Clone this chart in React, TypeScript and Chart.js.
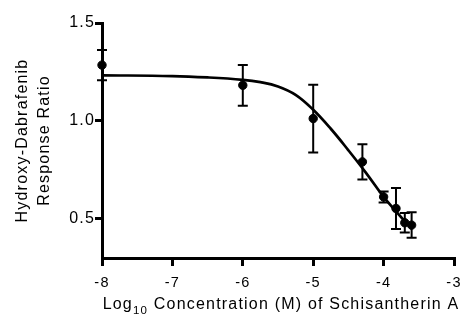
import React, { useEffect, useRef } from "react";
import { Chart, registerables } from "chart.js";

Chart.register(...registerables);

// Measured data points (log10 molar concentration, mean response ratio, error)
const logConc = [-8, -6, -5, -4.301, -4, -3.824, -3.699, -3.602];
const responseMean = [1.285, 1.182, 1.012, 0.791, 0.612, 0.553, 0.48, 0.468];
const responseErr = [0.077, 0.104, 0.173, 0.09, 0.028, 0.105, 0.05, 0.065];

// Fitted curve
const curveX = [-8, -7, -6.5, -6, -5.75, -5.5, -5.25, -5.0, -4.75, -4.5, -4.25, -4.0, -3.82, -3.7, -3.6];
const curveY = [1.233, 1.229, 1.222, 1.21, 1.198, 1.176, 1.133, 1.057, 0.96, 0.85, 0.735, 0.612, 0.537, 0.488, 0.449];

const yTicks = [0.5, 1.0, 1.5];
const xTitleMain = "Log";
const xTitleSub = "10";
const xTitleRest = " Concentration (M) of Schisantherin A";
const yTitle = ["Hydroxy-Dabrafenib", "Response Ratio"];

const FONT = "'Liberation Sans', Arial, Helvetica, sans-serif";
const SPACING = "1.2px";

const spacingPlugin = {
  id: "spacing",
  beforeDraw(chart: any) {
    chart.ctx.letterSpacing = SPACING;
  },
  afterDraw(chart: any) {
    chart.ctx.letterSpacing = "0px";
  },
};

const errorBarPlugin = {
  id: "errorBars",
  afterDatasetsDraw(chart: any) {
    const ctx = chart.ctx;
    const xs = chart.scales.x;
    const ys = chart.scales.y;
    ctx.save();
    ctx.strokeStyle = "#000";
    ctx.lineWidth = 2;
    const cap = 5;
    for (let i = 0; i < logConc.length; i++) {
      const px = xs.getPixelForValue(logConc[i]);
      const top = ys.getPixelForValue(responseMean[i] + responseErr[i]);
      const bot = ys.getPixelForValue(responseMean[i] - responseErr[i]);
      ctx.beginPath();
      ctx.moveTo(px, top);
      ctx.lineTo(px, bot);
      ctx.moveTo(px - cap, top);
      ctx.lineTo(px + cap, top);
      ctx.moveTo(px - cap, bot);
      ctx.lineTo(px + cap, bot);
      ctx.stroke();
    }
    ctx.restore();
  },
};

const xTitlePlugin = {
  id: "xTitle",
  afterDraw(chart: any) {
    const ctx = chart.ctx;
    const area = chart.chartArea;
    ctx.save();
    ctx.letterSpacing = SPACING;
    ctx.fillStyle = "#000";
    ctx.textBaseline = "alphabetic";
    ctx.textAlign = "left";
    const mainFont = `16px ${FONT}`;
    const subFont = `11.5px ${FONT}`;
    ctx.font = mainFont;
    const w1 = ctx.measureText(xTitleMain).width;
    const w3 = ctx.measureText(xTitleRest).width;
    ctx.font = subFont;
    const w2 = ctx.measureText(xTitleSub).width;
    const total = w1 + w2 + w3;
    const cx = (area.left + area.right) / 2 + 3;
    const baseline = chart.height - 5.7;
    let x = cx - total / 2;
    ctx.font = mainFont;
    ctx.fillText(xTitleMain, x, baseline);
    x += w1;
    ctx.font = subFont;
    ctx.fillText(xTitleSub, x, baseline + 4.2);
    x += w2;
    ctx.font = mainFont;
    ctx.fillText(xTitleRest, x, baseline);
    ctx.restore();
  },
};

export default function App() {
  const ref = useRef<HTMLCanvasElement | null>(null);

  useEffect(() => {
    const canvas = ref.current;
    if (!canvas) return;
    Chart.defaults.font.family = FONT;
    const chart = new Chart(canvas, {
      type: "scatter",
      data: {
        datasets: [
          {
            type: "line",
            data: curveX.map((x, i) => ({ x, y: curveY[i] })),
            borderColor: "#000",
            borderWidth: 2.7,
            pointRadius: 0,
            tension: 0.4,
            fill: false,
            clip: false,
          } as any,
          {
            type: "scatter",
            data: logConc.map((x, i) => ({ x, y: responseMean[i] })),
            backgroundColor: "#000",
            borderColor: "#000",
            pointRadius: 4.2,
            showLine: false,
            clip: false,
          } as any,
        ],
      },
      options: {
        animation: false,
        responsive: false,
        devicePixelRatio: 1,
        layout: { padding: { top: 23, right: 9, left: 0, bottom: 0 } },
        plugins: { legend: { display: false }, tooltip: { enabled: false } },
        scales: {
          x: {
            type: "linear",
            min: -8,
            max: -3,
            ticks: {
              stepSize: 1,
              color: "#000",
              font: { size: 14.5, family: FONT },
              padding: 8,
              maxRotation: 0,
            },
            grid: {
              display: true,
              drawOnChartArea: false,
              drawTicks: true,
              tickLength: 8,
              color: "#000",
              lineWidth: 3,
            },
            border: { display: true, color: "#000", width: 3 },
            afterFit: (s: any) => {
              s.height = 57;
              s.paddingLeft = 0;
              s.paddingRight = 0;
            },
          },
          y: {
            type: "linear",
            min: 0.3,
            max: 1.5,
            afterBuildTicks: (s: any) => {
              s.ticks = yTicks.map((v) => ({ value: v }));
            },
            ticks: {
              color: "#000",
              font: { size: 16, family: FONT },
              padding: 0,
              callback: (v: any) => Number(v).toFixed(1),
            },
            grid: {
              display: true,
              drawOnChartArea: false,
              drawTicks: true,
              tickLength: 7,
              color: "#000",
              lineWidth: 3,
            },
            border: { display: true, color: "#000", width: 3 },
            title: {
              display: true,
              text: yTitle,
              color: "#000",
              font: { size: 16, family: FONT, lineHeight: 1.35 },
              padding: { top: 12, bottom: 0 },
            },
            afterFit: (s: any) => {
              s.width = 102;
              s.paddingTop = 0;
              s.paddingBottom = 0;
            },
          },
        },
      },
      plugins: [spacingPlugin, errorBarPlugin, xTitlePlugin],
    });
    return () => chart.destroy();
  }, []);

  return (
    <div style={{ position: "fixed", left: 0, top: 0, width: 463, height: 315, background: "#fff" }}>
      <canvas ref={ref} width={463} height={315} style={{ width: 463, height: 315, display: "block" }} />
    </div>
  );
}
